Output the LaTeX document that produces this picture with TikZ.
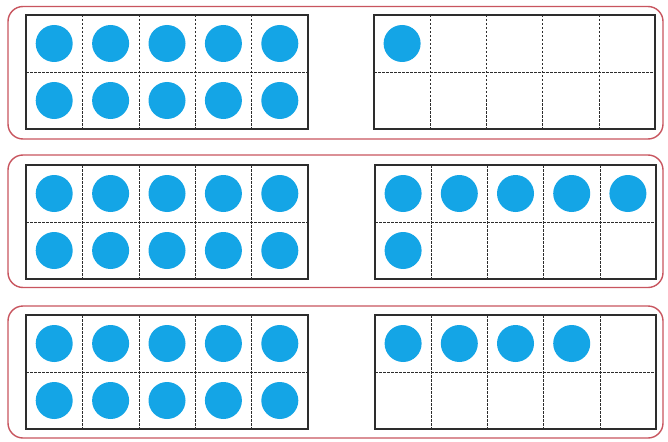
\documentclass[tikz,border=0pt]{standalone}
\definecolor{panelred}{RGB}{200,85,95}
\definecolor{dotblue}{RGB}{20,165,230}
\definecolor{framegray}{RGB}{45,45,45}
\tikzset{
  panel/.style={draw=panelred, line width=1.4pt, rounded corners=15pt},
  framebox/.style={draw=framegray, line width=1.6pt, fill=white},
  gridline/.style={draw=framegray, line width=0.6pt, dash pattern=on 2.5pt off 1.5pt},
  counter/.style={fill=dotblue}
}
\newcommand{\tenframe}[4]{% x0, y0, width, count
  \pgfmathsetmacro{\cw}{#3/5}
  \path[framebox] (#1,#2) rectangle ++(#3,114);
  \foreach \i in {1,...,4} {\draw[gridline] (#1+\i*\cw,#2) -- ++(0,114);}
  \draw[gridline] (#1,#2+57) -- ++(#3,0);
  \ifnum#4>0
  \foreach \n in {1,...,#4} {
    \pgfmathtruncatemacro{\r}{(\n-1)/5}
    \pgfmathtruncatemacro{\c}{mod(\n-1,5)}
    \fill[counter] (#1+\c*\cw+0.5*\cw, #2+28.5+\r*57) circle (18.5);
  }
  \fi
  \draw[framegray, line width=1.6pt] (#1,#2) rectangle ++(#3,114);
}
\begin{document}
\begin{tikzpicture}[x=1pt,y=-1pt]
\useasboundingbox (0,0) rectangle (668,441);
\fill[white] (0,0) rectangle (668,441);
\draw[panel] (8,6.5) rectangle (663,139);
\draw[panel] (8,155) rectangle (663,287.5);
\draw[panel] (8,306) rectangle (663,438);
\tenframe{26}{15}{282}{10}
\tenframe{374}{15}{281}{1}
\tenframe{26}{165}{282}{10}
\tenframe{375}{165}{281}{6}
\tenframe{26}{315}{282}{10}
\tenframe{375}{315}{281}{4}
\end{tikzpicture}
\end{document}
